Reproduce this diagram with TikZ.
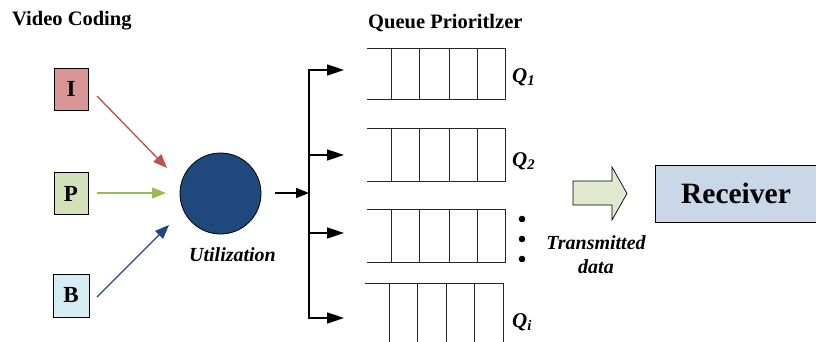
\documentclass[tikz,border=0pt]{standalone}
\usepackage{fontspec}
\setmainfont{Liberation Serif}
\usetikzlibrary{arrows.meta}
\definecolor{ifill}{HTML}{D99694}
\definecolor{pfill}{HTML}{D3E1B8}
\definecolor{bfill}{HTML}{D6EDF3}
\definecolor{circfill}{HTML}{1F497D}
\definecolor{iarrow}{HTML}{C0504D}
\definecolor{parrow}{HTML}{9BBB59}
\definecolor{barrow}{HTML}{1F497D}
\definecolor{blockfill}{HTML}{E2E8CF}
\definecolor{recfill}{HTML}{C9D7E8}
\tikzset{
  frame/.style={draw=black, line width=0.9pt, minimum width=34pt, minimum height=42pt, inner sep=0pt, font=\fontsize{23}{25}\selectfont\bfseries},
  ttl/.style={font=\fontsize{20.5}{23}\selectfont\bfseries, inner sep=0pt},
  itl/.style={font=\fontsize{20}{24}\selectfont\bfseries\itshape, inner sep=0pt, align=center},
  qlab/.style={font=\fontsize{21}{24}\selectfont\bfseries\itshape, inner sep=0pt},
  qline/.style={line width=0.9pt, draw=black!85},
  colarrow/.style={line width=1.3pt, -{Triangle[length=14pt,width=11pt]}},
  brarrow/.style={line width=1.6pt, -{Triangle[length=17pt,width=11pt]}},
}
\begin{document}
\begin{tikzpicture}[x=1pt,y=-1pt]
\useasboundingbox (0,0) rectangle (816,342);
% titles
\node[ttl, anchor=west] (vc) at (12,21) {Video Coding};
\node[ttl, anchor=west] (qp) at (368,23) {Queue Prioritlzer};
% source boxes
\node[frame, fill=ifill] (I) at (71,89) {I};
\node[frame, fill=pfill] (P) at (71,193.5) {P};
\node[frame, fill=bfill, minimum width=36pt, minimum height=43pt] (B) at (71,295.5) {B};
% utilization circle
\node[circle, draw=black, line width=0.8pt, fill=circfill, minimum size=81pt, inner sep=0pt] (U) at (220.5,193.5) {};
\node[itl] (ul) at (232.5,255) {Utilization};
\coordinate (ia) at (97,96);
\coordinate (ie) at (167,168);
\coordinate (pa) at (97,193);
\coordinate (pe) at (166,193);
\coordinate (ba) at (97,297);
\coordinate (be) at (169,225);
\draw[colarrow, draw=iarrow, fill=iarrow] (ia) -- (ie);
\draw[colarrow, draw=parrow, fill=parrow] (pa) -- (pe);
\draw[colarrow, draw=barrow, fill=barrow] (ba) -- (be);
% distributor
\coordinate (os) at (275,193);
\coordinate (oe) at (309,193);
\coordinate (bt) at (309,70);
\coordinate (bb) at (309,318);
\draw[brarrow, -{Triangle[length=13pt,width=10pt]}] (os) -- (oe);
\draw[line width=2pt] (bt) -- (bb);
\foreach \y/\n in {70/1,155/2,233/3,318/4}{
  \coordinate (bs\n) at (308,\y);
  \coordinate (be\n) at (344,\y);
  \draw[brarrow] (bs\n) -- (be\n);
}
% queues
\foreach \t/\b/\n in {48/99/1,128/181/2,209/262/3}{
  \draw[qline] (367,\t) -- (505,\t) -- (505,\b) -- (367,\b);
  \foreach \x in {391,419,449,477}{\draw[qline] (\x,\t) -- (\x,\b);}
}
\draw[qline] (365,283) -- (503,283) -- (503,342);
\foreach \x in {389,417,446,474}{\draw[qline] (\x,283) -- (\x,342);}
% queue labels
\node[qlab, anchor=west] (q1) at (512,77) {Q\textsubscript{1}};
\node[qlab, anchor=west] (q2) at (512,161) {Q\textsubscript{2}};
\node[qlab, anchor=west] (qi) at (512,322) {Q\textsubscript{i}};
\foreach \y in {219,239,259}{\fill (522,\y) circle (3.3pt);}
% transmitted data block arrow
\draw[line width=0.7pt, fill=blockfill] (573,181) -- (612,181) -- (612,167) -- (627,193.5) -- (612,220) -- (612,205) -- (573,205) -- cycle;
\node[itl] (td) at (596,255) {Transmitted\\data};
% receiver
\node[draw=black, line width=0.9pt, fill=recfill, minimum width=162pt, minimum height=57pt, inner sep=0pt, font=\fontsize{29.5}{32}\selectfont\bfseries] (R) at (736,193.5) {Receiver};
\end{tikzpicture}
\end{document}
